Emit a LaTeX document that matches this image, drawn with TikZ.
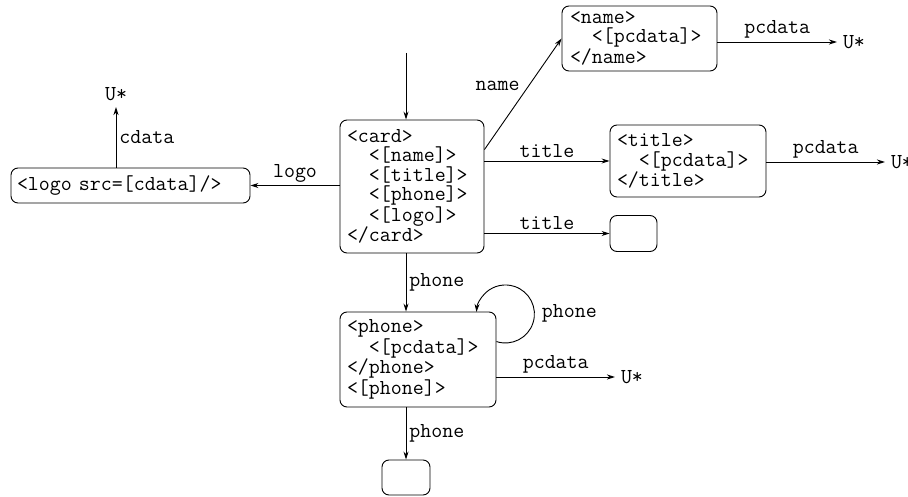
\documentclass[tikz,border=0pt]{standalone}
\usepackage{fontspec}
\usetikzlibrary{arrows.meta}
\begin{document}
\begin{tikzpicture}[x=1pt,y=-1pt,line width=0.9pt,
		font=\ttfamily\fontsize{21.3}{19.4}\selectfont,
		arr/.style={-{Stealth[length=8pt,width=5pt,inset=2.5pt]}},
		elem/.style={draw,rounded corners=7pt,inner xsep=7pt,inner ysep=0pt,align=left},
		hole/.style={draw,rounded corners=7pt,inner sep=0pt,minimum width=47pt,minimum height=36pt},
		term/.style={inner sep=2pt,outer sep=4pt},
		lbl/.style={inner sep=3pt}]
     \useasboundingbox (0,0) rectangle (908,497);
     % element boxes
     \node[elem,text width=130pt,minimum height=133pt] (card) at (412,186.5) {<card>\\\phantom{xx}<[name]>\\\phantom{xx}<[title]>\\\phantom{xx}<[phone]>\\\phantom{xx}<[logo]>\\</card>};
     \node[elem,inner xsep=8pt,text width=139pt,minimum height=65pt] (nm) at (639.5,38.5) {<name>\\\phantom{xx}<[pcdata]>\\</name>};
     \node[elem,text width=142pt,minimum height=72pt] (tt) at (688,161) {<title>\\\phantom{xx}<[pcdata]>\\</title>};
     \node[hole] (e1) at (633.5,233.5) {};
     \node[elem,inner xsep=6pt,text width=227pt,minimum height=35pt] (logo) at (130.5,185.5) {<logo src=[cdata]/>};
     \node[elem,text width=142pt,minimum height=95pt] (ph) at (418,359.5) {<phone>\\\phantom{xx}<[pcdata]>\\</phone>\\<[phone]>};
     \node[hole,minimum width=48pt,minimum height=35pt] (e2) at (406,477.5) {};
     % U* ends
     \node[term,anchor=west] (un) at (837,42) {U*};
     \node[term,anchor=west] (ut) at (885,162) {U*};
     \node[term,anchor=west] (up) at (615,377) {U*};
     \node[term,anchor=south] (ul) at (116,107) {U*};
     \coordinate (start) at (406,53);
     % connectors
     \draw[arr] (start) -- (start |- card.north);
     \draw[arr] ([yshift=-30pt]card.north east) -- (nm.west) node[lbl,midway,above left]{name};
     \draw[arr] (card.east |- tt.west) -- (tt.west) node[lbl,midway,above]{title};
     \draw[arr] (card.east |- e1.west) -- (e1.west) node[lbl,midway,above]{title};
     \draw[arr] (card.west |- logo.east) -- (logo.east) node[lbl,midway,above]{logo};
     \draw[arr] (logo.north -| ul.south) -- (ul.south) node[lbl,midway,right]{cdata};
     \draw[arr] (nm.east |- un.west) -- (un.west) node[lbl,midway,above]{pcdata};
     \draw[arr] (tt.east |- ut.west) -- (ut.west) node[lbl,midway,above]{pcdata};
     \draw[arr] (card.south -| start) -- (ph.north -| start) node[lbl,midway,right]{phone};
     \draw[arr] ([yshift=-30pt]ph.north east) arc[start angle=252,end angle=536,radius=29pt];
     \node[lbl,anchor=west] (loopl) at ([xshift=42pt,yshift=-2pt]ph.north east) {phone};
     \draw[arr] (ph.east |- up.west) -- (up.west) node[lbl,midway,above]{pcdata};
     \draw[arr] (ph.south -| e2.north) -- (e2.north) node[lbl,midway,right]{phone};
\end{tikzpicture}
\end{document}
